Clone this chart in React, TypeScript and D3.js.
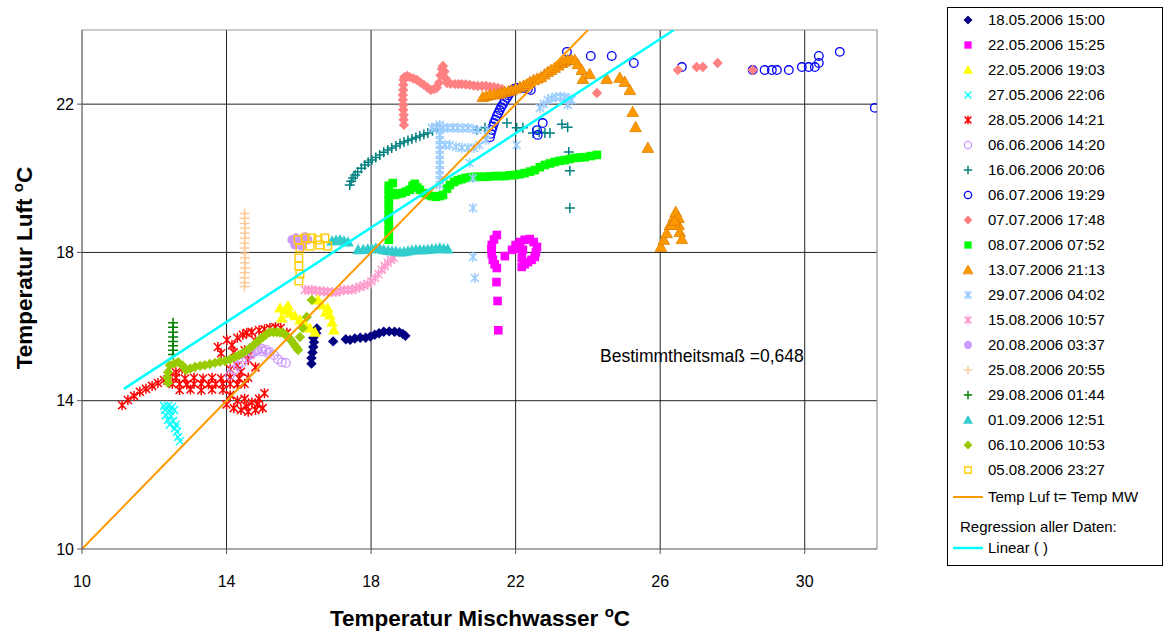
import React from 'react';
import * as d3 from 'd3';

type Pt = [number, number];

// ---- Data (x = Temperatur Mischwasser, y = Temperatur Luft) ----
const s18050 : Pt[] = [[16.35,15.0],[16.35,15.15],[16.38,15.3],[16.4,15.45],[16.42,15.58],[16.4,15.7],[16.48,15.82],[16.5,15.95],[16.95,15.6],[17.3,15.66],[17.42,15.64],[17.55,15.68],[17.7,15.7],[17.85,15.7],[17.98,15.73],[18.1,15.78],[18.22,15.82],[18.35,15.86],[18.5,15.87],[18.65,15.86],[18.78,15.85],[18.88,15.8],[18.95,15.75]];
const s22051: Pt[] = [[21.52,15.9],[21.5,16.69],[21.47,17.2],[21.48,17.58],[21.42,17.68],[21.37,17.8],[21.34,17.95],[21.33,18.08],[21.34,18.2],[21.4,18.35],[21.48,18.47],[21.7,17.9],[21.9,18.07],[22.0,18.2],[22.12,18.28],[22.25,18.34],[22.39,18.36],[22.5,18.28],[22.59,18.15],[22.56,18.0],[22.53,17.88],[22.44,17.8],[22.34,17.74],[22.25,17.68],[22.17,17.61],[22.17,17.85],[22.2,18.07],[22.05,18.1]];
const s22052: Pt[] = [[15.48,16.5],[15.62,16.45],[15.75,16.37],[15.89,16.29],[16.03,16.18],[16.17,16.07],[16.31,15.96],[16.45,15.85],[15.53,16.23],[15.7,16.56],[16.53,16.72],[16.64,16.58],[16.8,16.5],[16.86,16.31],[16.92,16.12],[16.97,15.91],[16.75,16.39]];
const s27052: Pt[] = [[12.27,13.86],[12.38,13.86],[12.49,13.83],[12.3,13.75],[12.43,13.72],[12.55,13.75],[12.32,13.61],[12.46,13.59],[12.38,13.48],[12.52,13.45],[12.43,13.35],[12.6,13.35],[12.57,13.26],[12.63,13.16],[12.66,13.02],[12.71,12.91]];
const s28051: Pt[] = [[11.11,13.88],[11.27,14.02],[11.44,14.13],[11.6,14.24],[11.77,14.32],[11.94,14.4],[12.1,14.48],[12.27,14.56],[12.43,14.67],[12.6,14.77],[12.77,14.86],
  [12.5,14.45],[12.7,14.45],[12.9,14.44],[13.1,14.45],[13.3,14.46],[13.5,14.44],[13.7,14.45],[13.9,14.46],[14.1,14.45],[14.3,14.44],[14.5,14.46],
  [12.6,14.62],[12.85,14.6],[13.1,14.62],[13.35,14.6],[13.6,14.62],[13.85,14.6],[14.1,14.63],[14.35,14.6],[14.6,14.62],
  [12.7,14.29],[13.0,14.3],[13.3,14.28],[13.6,14.3],[13.9,14.29],
  [13.76,15.45],[13.85,15.28],[14.01,15.64],[14.15,15.5],[14.3,15.7],[14.45,15.78],[14.56,15.83],[14.7,15.85],[14.9,15.9],[15.05,15.93],[15.2,15.96],[15.35,15.98],[15.5,15.96],[15.67,15.83],[14.2,15.3],[14.5,15.36],[14.8,15.62],[14.1,14.85],[14.3,14.95],[14.6,15.1],[14.8,14.9],[14.4,14.78],[14.65,15.25],
  [14.0,13.9],[14.2,13.8],[14.4,13.75],[14.6,13.7],[14.8,13.75],[15.0,13.8],[14.3,14.0],[14.5,14.05],[14.7,13.95],[14.9,14.05],[15.05,14.2],[14.1,14.15],[14.85,13.9],[14.55,13.85]];
const s06061: Pt[] = [[14.09,14.69],[14.2,14.83],[14.32,14.94],[14.43,15.04],[14.54,15.15],[14.65,15.23],[14.76,15.31],[14.87,15.37],[14.98,15.4],[15.09,15.37],[15.2,15.31],[15.31,15.23],[15.42,15.12],[15.53,15.04],[15.64,15.02],[14.7,15.3],[14.82,15.35],[15.0,15.33],[15.15,15.28]];
const s16062: Pt[] = [[17.41,19.82],[17.45,19.92],[17.5,20.01],[17.56,20.09],[17.63,20.17],[17.73,20.27],[17.83,20.36],[17.92,20.43],[18.02,20.49],[18.13,20.56],[18.24,20.63],[18.35,20.7],[18.46,20.76],[18.57,20.82],[18.69,20.87],[18.8,20.93],[18.91,20.98],[19.02,21.02],[19.13,21.06],[19.24,21.1],[19.35,21.14],[19.46,21.18],[19.57,21.22],[19.7,21.28],[19.82,21.33],[20.93,21.3],[21.15,21.36],[21.76,21.49],[22.03,21.36],[22.2,21.36],[22.48,21.22],[22.65,21.24],[22.81,21.22],[22.95,21.22],[23.28,21.46],[23.44,21.38],[23.47,20.71],[23.5,20.2],[23.5,19.2]];
const s06071: Pt[] = [[21.29,21.11],[21.31,21.2],[21.34,21.3],[21.37,21.4],[21.4,21.49],[21.44,21.58],[21.48,21.68],[21.52,21.76],[21.56,21.84],[21.6,21.92],[21.65,22.0],[21.7,22.09],[21.76,22.17],[21.8,22.24],[21.84,22.3],[21.9,22.36],[21.95,22.41],[22.02,22.43],[22.09,22.44],[22.17,22.44],[22.25,22.44],[22.34,22.41],[22.42,22.38],[22.59,21.3],[22.61,21.17],[22.75,21.49],[23.42,23.41],[24.08,23.3],[24.66,23.3],[25.27,23.11],[26.6,23.0],[28.56,22.92],[28.89,22.92],[29.09,22.92],[29.23,22.92],[29.56,22.92],[29.92,23.0],[30.11,23.0],[30.28,23.0],[30.39,23.11],[30.39,23.3],[30.97,23.41],[31.94,21.9]];
const s07071: Pt[] = [[18.91,21.44],[18.9,21.58],[18.9,21.71],[18.89,21.85],[18.89,21.98],[18.88,22.12],[18.88,22.25],[18.89,22.38],[18.89,22.52],[18.9,22.65],[18.92,22.73],[19.0,22.76],[19.07,22.73],[19.17,22.69],[19.27,22.65],[19.37,22.58],[19.46,22.52],[19.56,22.45],[19.65,22.38],[19.74,22.41],[19.82,22.44],[19.88,22.58],[19.92,22.78],[19.96,22.95],[19.99,23.03],[20.03,22.88],[20.06,22.7],[20.1,22.57],[20.2,22.55],[20.32,22.54],[20.42,22.54],[20.51,22.54],[20.62,22.53],[20.73,22.52],[20.84,22.5],[20.95,22.49],[21.07,22.49],[21.18,22.49],[21.29,22.47],[21.4,22.46],[21.51,22.44],[21.62,22.41],[24.25,22.3],[26.49,22.92],[27.01,23.0],[27.18,23.0],[27.59,23.11],[28.56,22.92]];
const s08070: Pt[] = [[18.49,18.34],[18.49,18.48],[18.49,18.61],[18.49,18.75],[18.49,18.88],[18.49,19.02],[18.49,19.15],[18.49,19.29],[18.49,19.42],[18.49,19.56],[18.49,19.69],[18.49,19.8],[18.6,19.87],[18.6,19.6],[18.66,19.55],[18.75,19.58],[18.85,19.6],[18.96,19.64],[19.07,19.69],[19.15,19.8],[19.21,19.85],[19.28,19.75],[19.35,19.69],[19.46,19.6],[19.57,19.55],[19.68,19.52],[19.79,19.5],[19.9,19.52],[19.99,19.55],[20.1,19.72],[20.18,19.82],[20.3,19.9],[20.4,19.95],[20.51,19.98],[20.62,20.01],[20.75,20.03],[20.87,20.04],[21.0,20.04],[21.15,20.04],[21.28,20.05],[21.42,20.06],[21.56,20.06],[21.7,20.06],[21.84,20.08],[21.98,20.09],[22.12,20.11],[22.25,20.14],[22.4,20.18],[22.53,20.22],[22.67,20.3],[22.81,20.36],[22.95,20.4],[23.08,20.44],[23.22,20.47],[23.36,20.49],[23.5,20.52],[23.64,20.55],[23.78,20.56],[23.91,20.57],[24.08,20.6],[24.25,20.63]];
const s13072: Pt[] = [[21.09,22.19],[21.19,22.22],[21.29,22.25],[21.4,22.26],[21.51,22.27],[21.6,22.3],[21.7,22.33],[21.8,22.35],[21.89,22.38],[22.0,22.42],[22.12,22.46],[22.22,22.5],[22.31,22.54],[22.4,22.6],[22.5,22.65],[22.6,22.69],[22.7,22.73],[22.8,22.8],[22.89,22.87],[22.98,22.92],[23.08,22.98],[23.18,23.04],[23.28,23.11],[23.36,23.15],[23.44,23.19],[23.54,23.2],[23.64,23.19],[23.72,23.08],[23.83,22.92],[23.86,22.68],[24.05,22.81],[24.52,22.68],[24.88,22.71],[25.02,22.6],[25.16,22.38],[25.24,21.79],[25.32,21.38],[25.66,20.82],[26.02,18.15],[26.1,18.34],[26.18,18.52],[26.27,18.74],[26.38,18.96],[26.43,19.09],[26.51,18.93],[26.51,18.74],[26.54,18.55],[26.6,18.36],[26.32,18.74],[26.4,18.85]];
const s29070: Pt[] = [[19.9,21.44],[19.9,21.3],[19.9,21.17],[19.9,21.03],[19.9,20.9],[19.9,20.77],[19.9,20.63],[19.9,20.5],[19.9,20.36],[19.9,20.22],[19.9,20.09],[19.9,19.95],[19.9,19.82],[19.68,21.36],[19.8,21.38],[20.0,21.36],[20.12,21.36],[20.26,21.36],[20.4,21.36],[20.54,21.35],[20.68,21.36],[20.82,21.33],[20.95,21.3],[20.05,20.9],[20.18,20.9],[20.35,20.85],[20.51,20.82],[20.68,20.82],[20.84,20.82],[21.0,20.9],[21.18,21.03],[21.23,21.3],[21.2,21.18],[22.67,21.9],[22.78,22.0],[22.89,22.11],[23.0,22.16],[23.11,22.19],[23.24,22.2],[23.36,22.19],[23.48,22.15],[23.55,22.11],[23.44,21.98],[22.03,20.9],[20.73,20.41],[20.82,20.01],[20.82,19.2],[20.82,17.88],[20.87,17.31]];
const s15081: Pt[] = [[16.17,16.99],[16.27,16.98],[16.36,16.99],[16.47,16.97],[16.58,16.96],[16.69,16.95],[16.8,16.93],[16.92,16.93],[17.03,16.93],[17.14,16.96],[17.25,16.99],[17.36,16.99],[17.47,16.99],[17.58,17.03],[17.69,17.07],[17.8,17.11],[17.91,17.15],[18.01,17.22],[18.11,17.31],[18.2,17.42],[18.3,17.53],[18.38,17.63],[18.46,17.72],[18.55,17.8],[18.63,17.85]];
const s20080: Pt[] = [[15.81,18.34],[15.92,18.39],[16.03,18.34],[16.17,18.42],[16.25,18.34],[15.89,18.2],[16.08,18.17],[15.98,18.28]];
const s25082: Pt[] = [[14.5,19.05],[14.5,18.92],[14.5,18.78],[14.51,18.65],[14.51,18.52],[14.51,18.38],[14.5,18.25],[14.5,18.12],[14.5,17.98],[14.51,17.85],[14.51,17.72],[14.51,17.58],[14.5,17.45],[14.5,17.32],[14.5,17.18],[14.5,17.08]];
const s29080: Pt[] = [[12.52,16.1],[12.52,15.98],[12.52,15.85],[12.52,15.72],[12.52,15.6],[12.52,15.48],[12.52,15.36],[12.52,15.25]];
const s01091: Pt[] = [[16.92,18.31],[17.03,18.33],[17.14,18.34],[17.25,18.31],[17.36,18.28],[17.64,18.07],[17.78,18.08],[17.91,18.09],[18.02,18.1],[18.13,18.12],[18.24,18.1],[18.35,18.07],[18.47,18.05],[18.58,18.04],[18.69,18.03],[18.8,18.01],[18.91,18.02],[19.02,18.04],[19.13,18.06],[19.24,18.07],[19.35,18.07],[19.46,18.07],[19.57,18.08],[19.68,18.09],[19.79,18.1],[19.9,18.12],[20.01,18.1],[20.12,18.09]];
const s06101: Pt[] = [[12.38,14.48],[12.36,14.62],[12.38,14.77],[12.43,14.96],[12.55,15.0],[12.66,15.04],[12.78,14.95],[12.88,14.83],[13.0,14.87],[13.13,14.91],[13.27,14.94],[13.4,14.96],[13.54,14.99],[13.68,15.02],[13.82,15.05],[13.96,15.07],[14.1,15.12],[14.23,15.18],[14.34,15.23],[14.45,15.29],[14.55,15.35],[14.65,15.42],[14.75,15.5],[14.84,15.58],[14.92,15.65],[15.01,15.72],[15.1,15.79],[15.2,15.85],[15.3,15.85],[15.39,15.85],[15.48,15.84],[15.56,15.83],[15.65,15.76],[15.73,15.69],[15.8,15.61],[15.86,15.53],[15.92,15.45],[15.98,15.37],[16.03,15.72],[16.11,15.96],[16.22,16.26],[16.36,16.72]];
const s05082: Pt[] = [[15.98,18.34],[16.17,18.39],[16.36,18.39],[16.53,18.34],[16.72,18.39],[16.03,18.12],[16.31,18.17],[16.58,18.2],[16.8,18.17],[16.0,17.85],[16.0,17.63],[16.03,17.42],[16.0,17.23]];

const seriesNames = ['18.05.2006 15:00','22.05.2006 15:25','22.05.2006 19:03','27.05.2006 22:06','28.05.2006 14:21','06.06.2006 14:20','16.06.2006 20:06','06.07.2006 19:29','07.07.2006 17:48','08.07.2006 07:52','13.07.2006 21:13','29.07.2006 04:02','15.08.2006 10:57','20.08.2006 03:37','25.08.2006 20:55','29.08.2006 01:44','01.09.2006 12:51','06.10.2006 10:53','05.08.2006 23:27'];

const identityLine: Pt[] = [[10,10],[24,24]];
const regressionLine: Pt[] = [[11.16,14.32],[26.38,24]];
const rSquaredLabel = 'Bestimmtheitsmaß =0,648';
const xTicks = [10,14,18,22,26,30];
const yTicks = [10,14,18,22];

type Marker = 'diamond'|'square'|'triangle'|'circle'|'x'|'star'|'plus';
interface Style { marker: Marker; color: string; fill: boolean; stroke?: string }

const seriesData: Pt[][] = [s18050,s22051,s22052,s27052,s28051,s06061,s16062,s06071,s07071,s08070,s13072,s29070,s15081,s20080,s25082,s29080,s01091,s06101,s05082];
const styles: Style[] = [
  {marker:'diamond',color:'#000080',fill:true},
  {marker:'square',color:'#FF00FF',fill:true},
  {marker:'triangle',color:'#FFFF00',fill:true},
  {marker:'x',color:'#00FFFF',fill:false},
  {marker:'star',color:'#FF0000',fill:false},
  {marker:'circle',color:'#CC99FF',fill:false},
  {marker:'plus',color:'#008080',fill:false},
  {marker:'circle',color:'#0000FF',fill:false},
  {marker:'diamond',color:'#FF8080',fill:true},
  {marker:'square',color:'#00FF00',fill:true},
  {marker:'triangle',color:'#FF9900',fill:true,stroke:'#E08000'},
  {marker:'star',color:'#99CCFF',fill:false},
  {marker:'star',color:'#FF99CC',fill:false},
  {marker:'circle',color:'#CC99FF',fill:true},
  {marker:'plus',color:'#FFCC99',fill:false},
  {marker:'plus',color:'#008000',fill:false},
  {marker:'triangle',color:'#33CCCC',fill:true},
  {marker:'diamond',color:'#99CC00',fill:true},
  {marker:'square',color:'#FFCC00',fill:false},
];

const W = 1167, H = 635;
const PL = 82, PR = 877, PT = 30, PB = 549;
const FONT = '"Liberation Sans", Arial, sans-serif';

function MarkerShape({ s, x, y, k = 1 }: { s: Style; x: number; y: number; k?: number }) {
  const c = s.color;
  switch (s.marker) {
    case 'diamond': {
      const r = 5.2 * k;
      return <path d={`M${x},${y-r}L${x+r},${y}L${x},${y+r}L${x-r},${y}Z`} fill={c} />;
    }
    case 'square': {
      const h = (s.fill ? 4.3 : 3.8) * k;
      return s.fill
        ? <rect x={x-h} y={y-h} width={2*h} height={2*h} fill={c} />
        : <rect x={x-h} y={y-h} width={2*h} height={2*h} fill="none" stroke={c} strokeWidth={1.4} />;
    }
    case 'triangle': {
      const r = 5.8 * k;
      return <path d={`M${x},${y-r}L${x+r},${y+r*0.78}L${x-r},${y+r*0.78}Z`} fill={c} stroke={s.stroke || 'none'} strokeWidth={0.8} />;
    }
    case 'circle':
      return s.fill
        ? <circle cx={x} cy={y} r={4.6 * k} fill={c} />
        : <circle cx={x} cy={y} r={4.3 * k} fill="none" stroke={c} strokeWidth={1.3} />;
    case 'x': {
      const r = 4 * k;
      return <path d={`M${x-r},${y-r}L${x+r},${y+r}M${x-r},${y+r}L${x+r},${y-r}`} stroke={c} strokeWidth={1.4} />;
    }
    case 'star': {
      const r = 4 * k, v = 5 * k;
      return <path d={`M${x-r},${y-r}L${x+r},${y+r}M${x-r},${y+r}L${x+r},${y-r}M${x},${y-v}L${x},${y+v}`} stroke={c} strokeWidth={1.5} />;
    }
    case 'plus': {
      const r = 5 * k;
      return <path d={`M${x-r},${y}L${x+r},${y}M${x},${y-r}L${x},${y+r}`} stroke={c} strokeWidth={1.5} />;
    }
  }
  return null;
}

export default function App() {
  const xs = d3.scaleLinear().domain([10, 32]).range([PL, PR]);
  const ys = d3.scaleLinear().domain([10, 24]).range([PB, PT]);
  const line = d3.line<Pt>().x(d => xs(d[0])).y(d => ys(d[1]));

  const legX = 947.5, legY = 7.5, legW = 215, legH = 558;
  const rowH = 25;

  return (
    <svg width={W} height={H} style={{ position: 'absolute', left: 0, top: 0, background: '#fff' }} fontFamily={FONT}>
      <rect x={0} y={0} width={W} height={H} fill="#fff" />
      <defs>
        <clipPath id="plot"><rect x={PL} y={PT} width={PR-PL} height={PB-PT} /></clipPath>
      </defs>
      {xTicks.filter(t => t > 10).map(t => (
        <line key={'gx'+t} x1={xs(t)} x2={xs(t)} y1={PT} y2={PB} stroke="#222" strokeWidth={1} />
      ))}
      {yTicks.filter(t => t > 10).map(t => (
        <line key={'gy'+t} x1={PL} x2={PR} y1={ys(t)} y2={ys(t)} stroke="#222" strokeWidth={1} />
      ))}
      <path d={`M${PL},${PT}H${PR}V${PB}`} fill="none" stroke="#999" strokeWidth={1.2} />
      <g clipPath="url(#plot)">
        {seriesData.map((data, i) => (
          <g key={'s'+i}>
            {data.map((p, j) => <MarkerShape key={j} s={styles[i]} x={xs(p[0])} y={ys(p[1])} />)}
          </g>
        ))}
        <path d={line(identityLine) || ''} stroke="#FF9900" strokeWidth={2} fill="none" />
        <path d={line(regressionLine) || ''} stroke="#00FFFF" strokeWidth={2.5} fill="none" />
      </g>
      <line x1={PL} x2={PL} y1={PT} y2={PB} stroke="#555" strokeWidth={1.2} />
      <line x1={PL} x2={PR} y1={PB} y2={PB} stroke="#555" strokeWidth={1.2} />
      {yTicks.map(t => (
        <g key={'yt'+t}>
          <line x1={PL-5} x2={PL} y1={ys(t)} y2={ys(t)} stroke="#555" />
          <text x={PL-8} y={ys(t)} dy="0.35em" textAnchor="end" fontSize={16} fill="#000">{t}</text>
        </g>
      ))}
      {xTicks.map(t => (
        <g key={'xt'+t}>
          <line x1={xs(t)} x2={xs(t)} y1={PB} y2={PB+5} stroke="#555" />
          <text x={xs(t)} y={PB+38} textAnchor="middle" fontSize={16} fill="#000">{t}</text>
        </g>
      ))}
      <text x={480} y={626} textAnchor="middle" fontSize={22.5} fontWeight="bold" fill="#000">
        Temperatur Mischwasser <tspan fontSize={15} dy={-9}>o</tspan><tspan dy={9}>C</tspan>
      </text>
      <text transform={`translate(32,268) rotate(-90)`} textAnchor="middle" fontSize={22.5} fontWeight="bold" fill="#000">
        Temperatur Luft <tspan fontSize={15} dy={-9}>o</tspan><tspan dy={9}>C</tspan>
      </text>
      <text x={600} y={362} fontSize={17.5} fill="#000">{rSquaredLabel}</text>
      <rect x={legX} y={legY} width={legW} height={legH} fill="#fff" stroke="#000" strokeWidth={1} />
      {seriesNames.map((n, i) => {
        const cy = 20 + i * rowH;
        return (
          <g key={'lg'+i}>
            <MarkerShape s={styles[i]} x={968} y={cy} k={0.85} />
            <text x={988} y={cy} dy="0.36em" fontSize={15} fill="#000">{n}</text>
          </g>
        );
      })}
      <line x1={953} x2={983} y1={497} y2={497} stroke="#FF9900" strokeWidth={2} />
      <text x={988} y={497} dy="0.36em" fontSize={15} fill="#000">Temp Luf t= Temp MW</text>
      <text x={960} y={527} dy="0.36em" fontSize={15} fill="#000">Regression aller Daten:</text>
      <line x1={953} x2={983} y1={548} y2={548} stroke="#00FFFF" strokeWidth={2.5} />
      <text x={988} y={548} dy="0.36em" fontSize={15} fill="#000">Linear ( )</text>
    </svg>
  );
}
